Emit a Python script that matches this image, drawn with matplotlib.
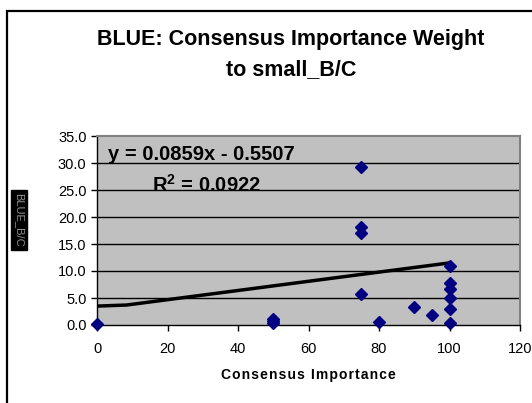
# Import libs
import matplotlib
matplotlib.use('Agg')
import matplotlib.pyplot as plt
from matplotlib.patches import Rectangle

# --- data ---
consensus_x = [0, 50, 50, 50, 75, 75, 75, 75, 80, 90, 95, 100, 100, 100, 100, 100, 100]
weight_y = [0.2, 1.2, 0.7, 0.4, 29.3, 18.1, 17.0, 5.7, 0.6, 3.3, 1.8, 11.0, 7.7, 6.6, 5.0, 2.9, 0.3]

# trend line as drawn in the original chart
trend_x = [0, 8.4, 100]
trend_y = [3.5, 3.7, 11.5]

x_ticks = [0, 20, 40, 60, 80, 100, 120]
y_ticks = [0, 5, 10, 15, 20, 25, 30, 35]

eq_text = 'y = 0.0859x - 0.5507'
r2_text = 'R$^2$ = 0.0922'
x_title = 'Consensus Importance'

plt.rcParams['font.family'] = ['Liberation Sans', 'DejaVu Sans']
plt.rcParams['mathtext.fontset'] = 'custom'
plt.rcParams['mathtext.rm'] = 'Liberation Sans:bold'

fig = plt.figure(figsize=(5.32, 4.03), dpi=100)

# outer chart border (runs off right and bottom edges)
fig.patches.append(Rectangle((7 / 532, -0.05), 1.1, 1 - 11 / 403 + 0.05, transform=fig.transFigure,
                             fill=False, edgecolor='black', linewidth=1.6))

ax = fig.add_axes([97 / 532, 78 / 403, 423 / 532, 189 / 403])
ax.set_facecolor('#C0C0C0')

# grid lines (black, horizontal)
for yv in y_ticks[1:-1]:
    ax.axhline(yv, color='black', linewidth=1.0, zorder=1)

ax.plot(trend_x, trend_y, color='black', linewidth=2.5, zorder=2)
ax.plot(consensus_x, weight_y, linestyle='none', marker='D', markersize=6.5,
        color='#000080', clip_on=False, zorder=3)

ax.set_xlim(0, 120)
ax.set_ylim(0, 35)
ax.set_xticks(x_ticks)
ax.set_yticks(y_ticks)
ax.set_yticklabels(['%.1f' % v for v in y_ticks])
ax.tick_params(direction='out', length=4, width=1, labelsize=10.5, colors='black')
ax.tick_params(axis='x', pad=8)

for s in ['left', 'bottom']:
    ax.spines[s].set_color('black')
    ax.spines[s].set_linewidth(1.0)
for s in ['top', 'right']:
    ax.spines[s].set_color('#808080')
    ax.spines[s].set_linewidth(1.5)

# letter-spaced axis title
ax.set_xlabel('\u200a'.join(x_title), fontsize=10, fontweight='bold', labelpad=9)

# equation labels
fig.text(108 / 532, 1 - 155 / 403, eq_text, fontsize=14.5, fontweight='bold', va='center', ha='left')
fig.text(152 / 532, 1 - 185 / 403, r2_text, fontsize=14.5, fontweight='bold', va='center', ha='left')

# title
fig.text(291 / 532, 1 - 39 / 403, 'BLUE: Consensus Importance Weight', fontsize=15.5,
         fontweight='bold', ha='center', va='center')
fig.text(291 / 532, 1 - 70 / 403, 'to small_B/C', fontsize=15.5,
         fontweight='bold', ha='center', va='center')

# small black box on the left
fig.text(19 / 532, 1 - 220 / 403, 'BLUE_B/C', fontsize=8, color='#909090', rotation=-90,
         ha='center', va='center', bbox=dict(facecolor='black', edgecolor='black', pad=2))

plt.savefig('out.png', dpi=100)
